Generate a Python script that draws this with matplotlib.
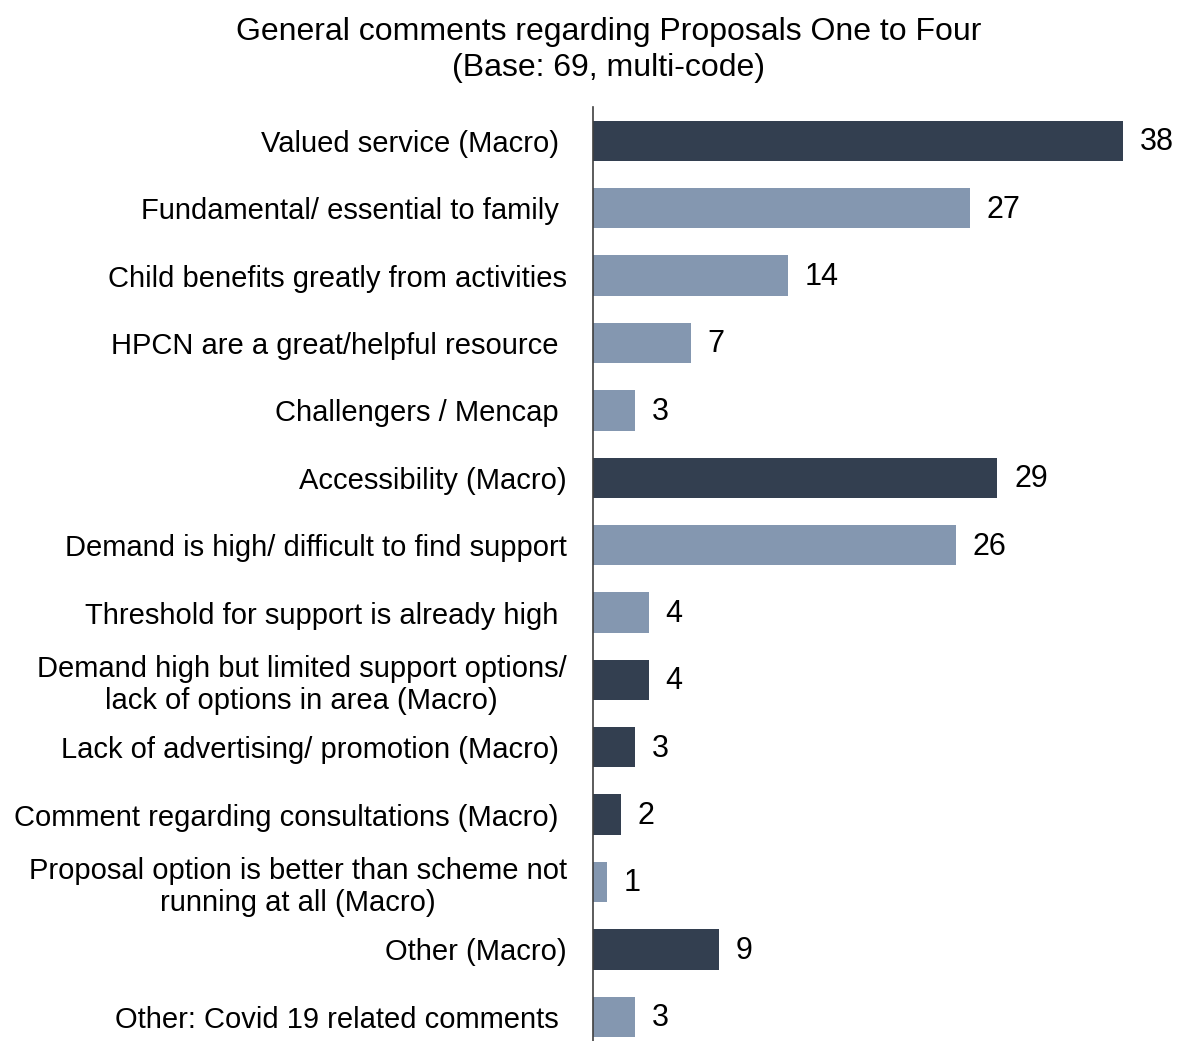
import matplotlib.pyplot as plt

plt.rcParams['font.family'] = ['Liberation Sans', 'DejaVu Sans']

DARK = '#333f50'
LIGHT = '#8497b0'

categories = [
    'Valued service (Macro) ',
    'Fundamental/ essential to family ',
    'Child benefits greatly from activities',
    'HPCN are a great/helpful resource ',
    'Challengers / Mencap ',
    'Accessibility (Macro)',
    'Demand is high/ difficult to find support',
    'Threshold for support is already high ',
    'Demand high but limited support options/\nlack of options in area (Macro)',
    'Lack of advertising/ promotion (Macro) ',
    'Comment regarding consultations (Macro) ',
    'Proposal option is better than scheme not\nrunning at all (Macro)',
    'Other (Macro)',
    'Other: Covid 19 related comments ',
]
values = [38, 27, 14, 7, 3, 29, 26, 4, 4, 3, 2, 1, 9, 3]
is_macro = [True, False, False, False, False, True, False, False, True, True, True, False, True, False]

FS = 21

fig = plt.figure(figsize=(11.79, 10.41), dpi=100)
ax = fig.add_axes([0.503, 0.0, 0.485, 0.897])

ypos = list(range(len(categories)))
colors = [DARK if m else LIGHT for m in is_macro]
ax.barh(ypos, values, height=0.6, color=colors)

for y, v in zip(ypos, values):
    ax.annotate(str(v), (v, y), xytext=(12, -1), textcoords='offset points',
                va='center', ha='left', fontsize=22, color='black')

ax.set_xlim(0, 41)
ax.set_ylim(13.36, -0.5)
ax.set_yticks(ypos)
ax.set_yticklabels(categories, fontsize=FS)
for lbl in ax.get_yticklabels():
    lbl.set_multialignment('center')
ax.tick_params(axis='y', length=0, pad=19)
ax.set_xticks([])
for s in ['top', 'right', 'bottom']:
    ax.spines[s].set_visible(False)
ax.spines['left'].set_color('#404040')
ax.spines['left'].set_linewidth(1.2)

fig.text(0.516, 0.952, 'General comments regarding Proposals One to Four\n(Base: 69, multi-code)',
         ha='center', va='center', fontsize=23, linespacing=1.3)

fig.savefig('out.png', dpi=100, facecolor='white')
